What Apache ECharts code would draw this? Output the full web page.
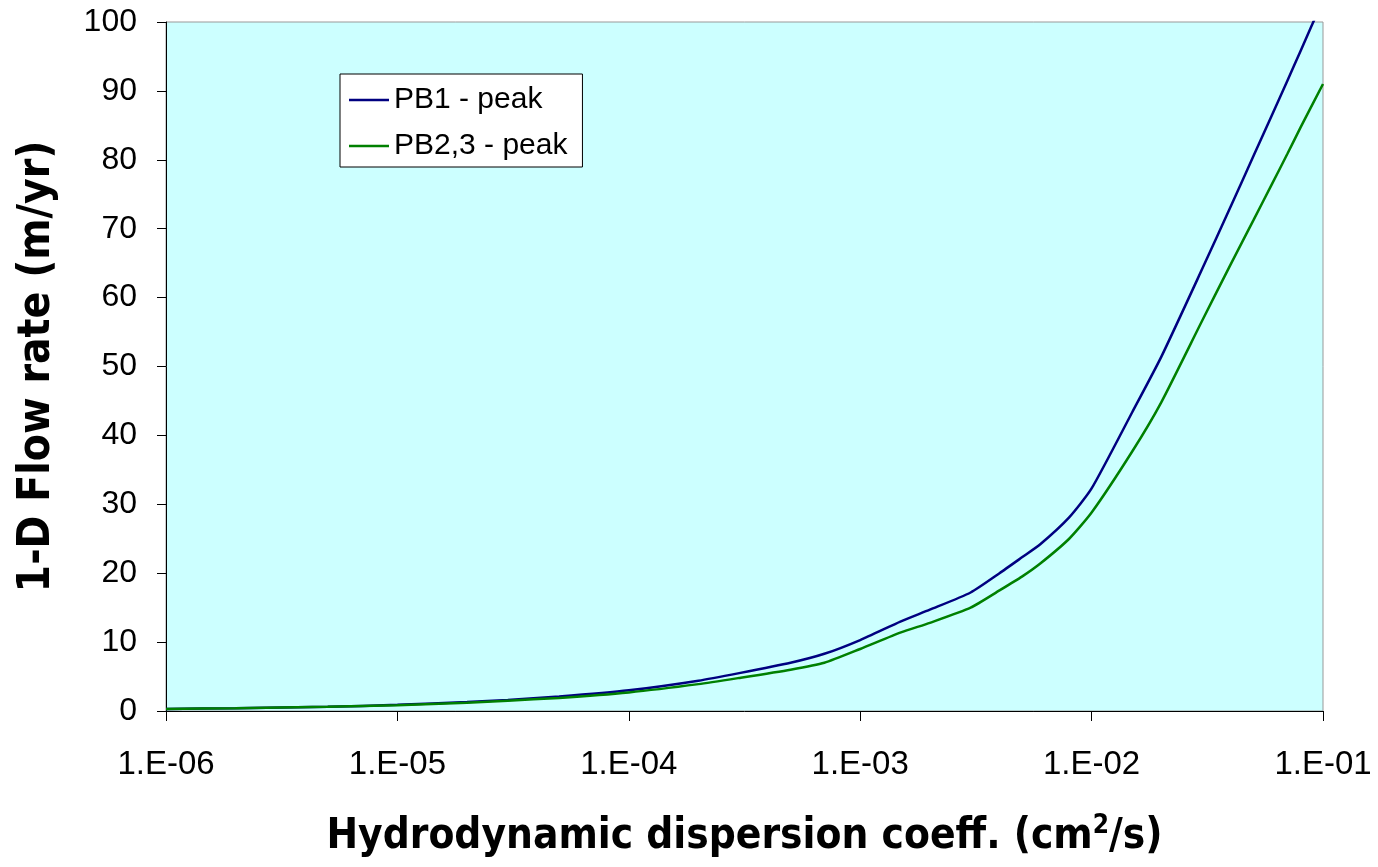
<!DOCTYPE html>
<html>
<head>
<meta charset="utf-8">
<script src="https://cdn.jsdelivr.net/npm/echarts@6/dist/echarts.min.js"></script>
<style>
  html, body { margin: 0; padding: 0; background: #fff; }
  #chart { width: 1378px; height: 867px; }
</style>
</head>
<body>
<div id="chart"></div>
<script>
// dispersion coefficient (cm2/s) and peak flow rates (m/yr)
const dispersion = [
  1e-6, 2e-6, 5e-6, 1e-5, 2e-5, 3e-5, 5e-5, 1e-4, 2e-4, 3e-4, 5e-4, 7e-4,
  1e-3, 1.5e-3, 2e-3, 3e-3, 4e-3, 5e-3, 6e-3, 8e-3, 1e-2, 1.5e-2,
  2e-2, 3e-2, 4e-2, 5e-2, 6e-2, 7e-2, 8e-2, 1e-1,
];
const pb1Peak = [
  0.3, 0.4, 0.6, 0.9, 1.3, 1.6, 2.1, 3.0, 4.4, 5.5, 7.0, 8.3,
  10.3, 13.0, 14.7, 17.2, 20.0, 22.3, 24.2, 28.1, 32.3, 43.4,
  51.4, 64.1, 73.3, 80.5, 86.4, 91.4, 95.8, 103.2,
];
const pb23Peak = [
  0.3, 0.4, 0.6, 0.85, 1.2, 1.5, 1.9, 2.7, 3.9, 4.8, 6.0, 7.0,
  9.0, 11.4, 12.8, 15.0, 17.5, 19.5, 21.4, 25.0, 28.8, 37.7,
  44.8, 56.6, 64.9, 71.2, 76.4, 80.8, 84.7, 91.0,
];
const seriesNames = ["PB1 - peak", "PB2,3 - peak"];

const pairs = (xs, ys) => xs.map((x, i) => [x, ys[i]]);

// label like 1.E-05
function sciLabel(v) {
  const e = Math.round(Math.log10(v));
  const s = String(Math.abs(e)).padStart(2, "0");
  return "1.E" + (e < 0 ? "-" : "+") + s;
}

const font = "Liberation Sans, Arial, sans-serif";
const narrow = "DejaVu Sans Condensed, Liberation Sans, sans-serif";

var myChart = echarts.init(document.getElementById("chart"));

var option = {
  animation: false,
  backgroundColor: "#fff",
  grid: {
    left: 166,
    right: 55,
    top: 22,
    bottom: 156,
    show: true,
    backgroundColor: "#CCFFFF",
    borderColor: "#999",
    borderWidth: 1,
  },
  legend: {
    orient: "vertical",
    left: 340,
    top: 74,
    padding: [11, 15, 6, 9],
    icon: "rect",
    itemWidth: 40,
    itemHeight: 2.5,
    itemGap: 16,
    backgroundColor: "#fff",
    borderColor: "#000",
    borderWidth: 1,
    borderRadius: 0,
    textStyle: { fontFamily: font, fontSize: 30, color: "#000", lineHeight: 30 },
    data: seriesNames,
  },
  xAxis: {
    type: "log",
    logBase: 10,
    min: 1e-6,
    max: 1e-1,
    name: "{a|Hydrodynamic dispersion coeff. (cm}{s|2}{a|/s)}",
    nameLocation: "middle",
    nameGap: 102,
    nameTextStyle: {
      rich: {
        a: { fontFamily: narrow, fontSize: 42, fontWeight: "bold", color: "#000" },
        s: {
          fontFamily: narrow,
          fontSize: 26,
          fontWeight: "bold",
          color: "#000",
          padding: [0, 0, 22, 0],
        },
      },
    },
    axisLine: { lineStyle: { color: "#000", width: 1 } },
    axisTick: { inside: false, length: 10, lineStyle: { color: "#000" } },
    minorTick: { show: false },
    splitLine: { show: false },
    axisLabel: {
      formatter: sciLabel,
      fontFamily: font,
      fontSize: 33,
      color: "#000",
      margin: 37,
      showMinLabel: true,
      showMaxLabel: true,
    },
  },
  yAxis: {
    type: "value",
    min: 0,
    max: 100,
    interval: 10,
    name: "1-D Flow rate (m/yr)",
    nameLocation: "middle",
    nameGap: 106,
    nameTextStyle: { fontFamily: narrow, fontSize: 44, fontWeight: "bold", color: "#000" },
    axisLine: { show: true, lineStyle: { color: "#000", width: 1 } },
    axisTick: { show: true, inside: false, length: 9, lineStyle: { color: "#000" } },
    splitLine: { show: false },
    axisLabel: { fontFamily: font, fontSize: 32, color: "#000", margin: 29 },
  },
  series: [
    {
      name: seriesNames[0],
      type: "line",
      data: pairs(dispersion, pb1Peak),
      symbol: "none",
      smooth: 0.2,
      clip: true,
      lineStyle: { color: "#000080", width: 2.5 },
      itemStyle: { color: "#000080" },
    },
    {
      name: seriesNames[1],
      type: "line",
      data: pairs(dispersion, pb23Peak),
      symbol: "none",
      smooth: 0.2,
      clip: true,
      lineStyle: { color: "#008000", width: 2.5 },
      itemStyle: { color: "#008000" },
    },
  ],
};

myChart.setOption(option);
</script>
</body>
</html>
